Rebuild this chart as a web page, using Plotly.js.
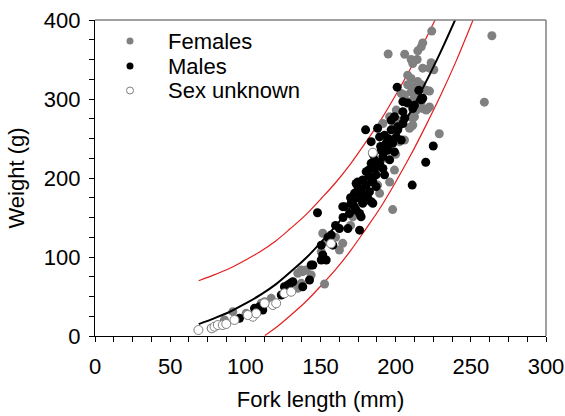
<!DOCTYPE html>
<html>
<head>
<meta charset="utf-8">
<script src="https://cdn.plot.ly/plotly-3.0.1.min.js"></script>
<style>html,body{margin:0;padding:0;background:#fff;}#chart{width:565px;height:416px;}</style>
</head>
<body>
<div id="chart"></div>
<script>
// Females
var femL = [264,259,229,198,195,224,218,217,214.7,206,210.3,214.3,211.4,223.6,222.5,218,225.4,208,210.3,214.7,208,211.4,217,220.3,210.3,206,212.5,209.2,217,221.4,213.7,200.4,210.3,201.4,211.4,218,203.7,222.5,222.5,196,209.2,199.2,199.2,191.5,196,212.5,202.6,205.9,210.3,211.4,220.3,151.5,154.9,162.6,164.8,150.5,137.2,134.9,152.7,171.5,188,189.3,77.3,86.1,91.7,100.6,110.6,111.6,117.2,112.8,128.3,137.2,138.2,140.5,143.8,134.9,178,185,192,180,170,160,195,200];
var femW = [380,296,256,160,357,386,371,366,361,356.6,350,350,345,346,339,339,337,330,326,322,318,315.6,318,311,309,305,303,296.6,296.6,288,286,286,277.6,273,267,288,307,310,290,277.6,263,210,263,269,195,277.6,246,248,265,275.6,286,130,119.4,108.9,117.3,106.7,83.5,79.4,65.8,151,191,180.6,9.7,20.3,30.8,28.7,41.4,37,47.7,43.4,60.4,66.7,81.4,83.5,77.2,60.4,170,200,225,185,140,125,240,230];
// Males
var maleL = [225,220,211,148,180,201,215.4,204.8,208,212.5,218,217,211.4,204.8,199.2,206,197,204.8,188,201.4,192.6,197,201.4,200.4,203.7,198,193.7,190.4,194.8,199.2,191.5,186,189.3,196,183.7,186,191.5,180.4,187,182.6,192.6,178.1,184.8,174.8,180.4,187,177,182.6,172.6,178.1,176,181.5,171.5,178.1,166,172.6,184.8,183.7,189.3,164.8,170.4,173.7,176,177,169.3,162.6,168.2,176,157.1,150.5,158.2,151.5,150.5,153.8,144.9,142.7,138.2,131.6,177,173.7,180.4,183.7,96.1,106.1,109.4,111.6,123.9,126,130,128.3,143.8,185,190,195,182,188,175,170,165,160,155];
var maleW = [240.5,220,191,156,261,315,311,296.6,295,292,301,299,288,284,277.6,275.6,273,269,263,265,254,261,261,252,248,244,244,235,235,233,227,223,218.6,223,218.6,212,212,208,204,201.6,204,197.5,195,195,191,189,185,182.6,180.6,178.5,174.3,174.3,170,168,163.7,163.7,168,246,252,163.7,168,159.5,155,151,155,136,136,134,127.8,115,115,102.5,96.2,96.2,89.9,70.9,62.4,68.7,178.5,193,172,170,22.4,35,37,32.9,51.9,62.4,66.7,64.6,89.9,230,240,250,210,215,188,175,150,140,125];
// Sex unknown
var unkL = [68.8,77.7,79.5,81.7,85,87.3,92.8,105,107.2,118.3,120.5,126,130.5,112.8,101.6,157,184.8];
var unkW = [7.6,9.7,11.8,13.9,13.9,15.2,20.3,24.4,28.7,39.2,41.4,54,56,41.4,26.6,117,232];
// Fitted curve and prediction limits
var fitL = [69,80,90,100,110,120,130,140,150,160,170,180,190,200,210,220,230,240];
var fitW = [15,23,31,41,52,65,81,98,118,139,163,190,218,250,284,321,360,402];
var upL = [69,80,90,100,110,120,130,140,150,160,170,180,190,200,210,220,230];
var upW = [70,78,86,96,107,120,136,153,173,194,218,245,273,305,339,376,415];
var loL = [113,120,130,140,150,160,170,180,190,200,210,220,230,240,250,255];
var loW = [0.7,10,26,43,63,84,108,135,163,195,229,266,305,347,393,417];
// Legend labels
var legendLabels = ["Females","Males","Sex unknown"];

var FONT = "Liberation Sans, Arial, sans-serif";
var traces = [
  {x: upL, y: upW, mode:'lines', line:{color:'rgb(228,30,30)', width:1.2, shape:'spline'}, hoverinfo:'skip'},
  {x: loL, y: loW, mode:'lines', line:{color:'rgb(228,30,30)', width:1.2, shape:'spline'}, hoverinfo:'skip'},
  {x: femL, y: femW, mode:'markers', name: legendLabels[0], marker:{color:'#808080', size:9, line:{width:0}}},
  {x: maleL, y: maleW, mode:'markers', name: legendLabels[1], marker:{color:'#000000', size:9, line:{width:0}}},
  {x: unkL, y: unkW, mode:'markers', name: legendLabels[2], marker:{color:'#ffffff', size:9, line:{color:'#808080', width:1}}},
  {x: fitL, y: fitW, mode:'lines', line:{color:'#000000', width:2, shape:'spline'}, hoverinfo:'skip'}
];

var L0 = 95, T0 = 20, PW = 451, PH = 316;
function px2paperX(p){ return (p - L0)/PW; }
function px2paperY(p){ return (T0 + PH - p)/PH; }
var legRows = [41, 66, 90.5];
var legColors = [['#808080','#808080'],['#000000','#000000'],['#ffffff','#808080']];
var shapes = [
  {type:'line', xref:'paper', yref:'paper', x0:0, x1:1, y0:1, y1:1, line:{color:'#808080', width:1.5}},
  {type:'line', xref:'paper', yref:'paper', x0:1, x1:1, y0:0, y1:1, line:{color:'#808080', width:1.5}}
];
var annotations = [];
for (var i=0;i<3;i++){
  shapes.push({type:'circle', xref:'paper', yref:'paper', xsizemode:'pixel', ysizemode:'pixel',
    xanchor: px2paperX(130), yanchor: px2paperY(legRows[i]), x0:-3.5, x1:3.5, y0:-3.5, y1:3.5,
    fillcolor: legColors[i][0], line:{color: legColors[i][1], width: i==2?1:0}});
  annotations.push({xref:'paper', yref:'paper', x: px2paperX(166), y: px2paperY(legRows[i]),
    xanchor:'left', yanchor:'middle', showarrow:false, text: legendLabels[i],
    font:{family:FONT, size:22, color:'#000'}});
}

var layout = {
  width:565, height:416,
  margin:{l:L0, r:565-L0-PW, t:T0, b:416-T0-PH, pad:0},
  paper_bgcolor:'#fff', plot_bgcolor:'#fff',
  showlegend:false,
  font:{family:FONT, size:22, color:'#000'},
  xaxis:{range:[0,300], dtick:50, tick0:0, ticks:'outside', ticklen:5, tickwidth:1, tickcolor:'#000',
    minor:{dtick:12.5, ticks:'outside', ticklen:5, tickwidth:1, tickcolor:'#000'},
    showline:true, linecolor:'#000', linewidth:1.2, showgrid:false, zeroline:false,
    ticklabelstandoff:5,
    tickfont:{family:FONT, size:22},
    title:{text:'Fork length (mm)', font:{family:FONT, size:22}, standoff:14}},
  yaxis:{range:[0,400], dtick:100, tick0:0, ticks:'outside', ticklen:5, tickwidth:1, tickcolor:'#000',
    minor:{dtick:25, ticks:'outside', ticklen:5, tickwidth:1, tickcolor:'#000'},
    showline:true, linecolor:'#000', linewidth:1.2, showgrid:false, zeroline:false,
    ticklabelstandoff:4,
    tickfont:{family:FONT, size:22},
    title:{text:'Weight (g)', font:{family:FONT, size:22}, standoff:13}},
  shapes: shapes,
  annotations: annotations
};
Plotly.newPlot('chart', traces, layout, {staticPlot:true, displayModeBar:false});
</script>
</body>
</html>
